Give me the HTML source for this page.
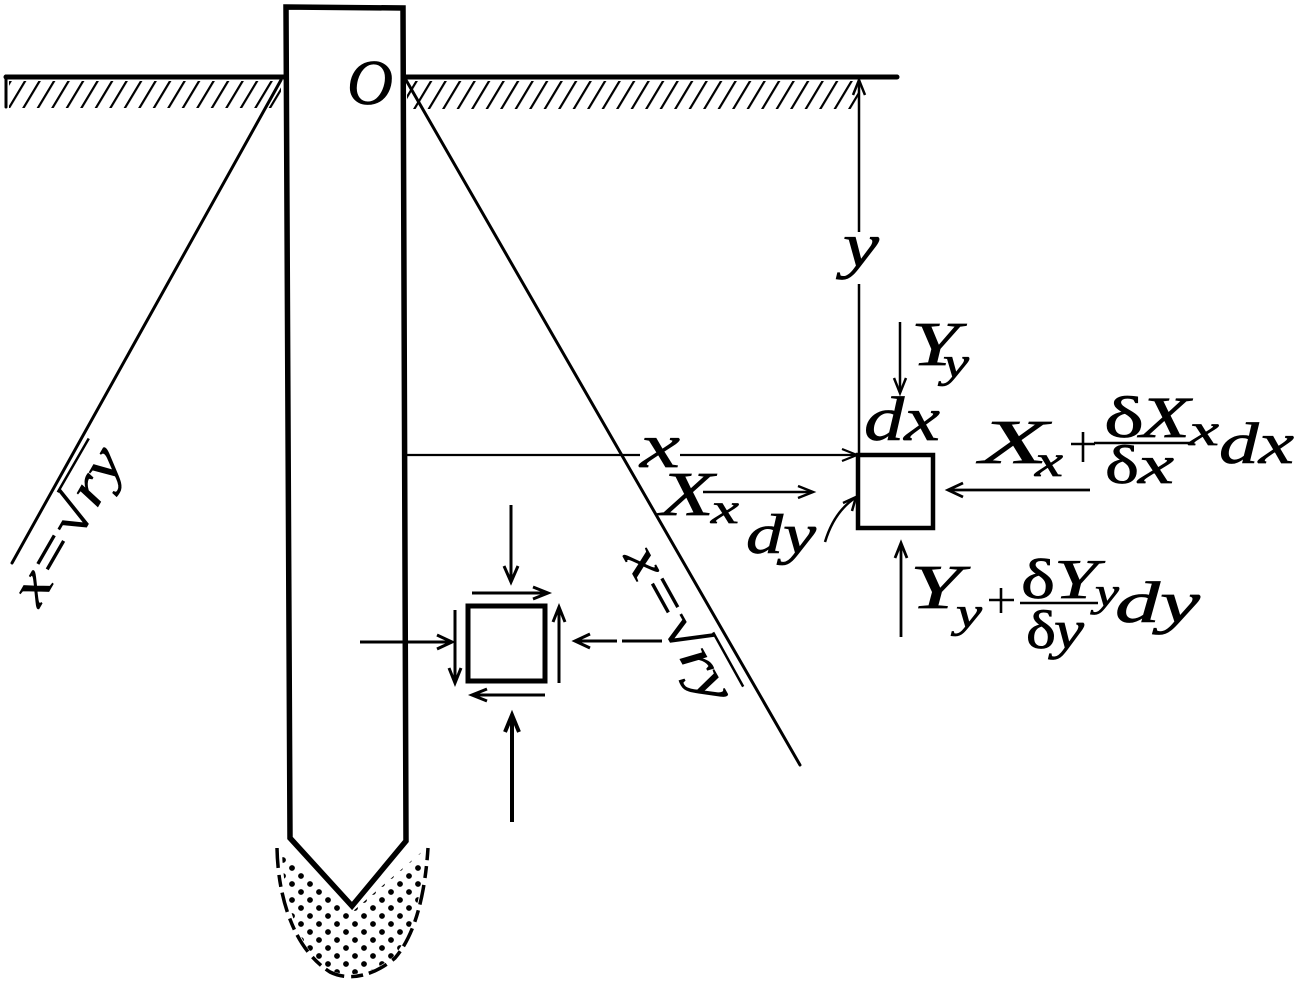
<!DOCTYPE html>
<html>
<head>
<meta charset="utf-8">
<style>
  html, body { margin:0; padding:0; background:#fff; }
  body { width:1296px; height:984px; overflow:hidden; }
  svg { display:block; }
  text { font-family: "Liberation Serif", "DejaVu Serif", serif; font-style: italic; fill:#000; stroke:#000; stroke-width:0.7; }
  .up { font-style: normal; }
</style>
</head>
<body>
<svg width="1296" height="984" viewBox="0 0 1296 984" xmlns="http://www.w3.org/2000/svg">
  <defs>
    <pattern id="dots" patternUnits="userSpaceOnUse" width="18" height="16">
      <circle cx="4" cy="4" r="2.9" fill="#000"/>
      <circle cx="13" cy="12" r="2.9" fill="#000"/>
    </pattern>
    <pattern id="hatch" patternUnits="userSpaceOnUse" width="14.5" height="400" patternTransform="skewX(-31)">
      <rect x="0" y="0" width="2.6" height="400" fill="#000"/>
    </pattern>
  </defs>
  <rect width="1296" height="984" fill="#fff"/>

  <!-- ground -->
  <rect x="9" y="81" width="272" height="27" fill="url(#hatch)"/>
  <rect x="407" y="81" width="451" height="28" fill="url(#hatch)"/>
  <g stroke="#000" fill="none" stroke-linecap="round">
    <line x1="6" y1="77" x2="286" y2="77" stroke-width="5"/>
    <line x1="403" y1="77" x2="897" y2="77" stroke-width="5"/>
    <line x1="6" y1="76" x2="6" y2="107" stroke-width="3"/>
  </g>

  <!-- slanted lines -->
  <g stroke="#000" stroke-width="3" stroke-linecap="round">
    <line x1="281" y1="80" x2="12" y2="563"/>
    <line x1="406" y1="80" x2="800" y2="765"/>
  </g>

  <!-- soil at tip -->
  <path d="M282,850 L352,912 L424,850 C422,895 413,935 393,957 C373,973 350,979 330,970 C298,950 283,900 282,850 Z" fill="url(#dots)"/>
  <path d="M277,848 C278,900 295,950 330,972 C350,982 375,975 395,958 C415,935 425,895 428,848" fill="none" stroke="#000" stroke-width="3.5" stroke-dasharray="20 7 12 6"/>

  <!-- pile -->
  <path d="M286,7 L403,8 L406,841 L352,906 L290,838 Z" fill="#fff" stroke="#000" stroke-width="5.5"/>
  <text x="347" y="104" font-size="64" textLength="46" lengthAdjust="spacingAndGlyphs">O</text>

  <!-- y dimension -->
  <g stroke="#000" stroke-width="2.5" fill="none">
    <line x1="859" y1="81" x2="859" y2="232"/>
    <line x1="859" y1="284" x2="859" y2="455"/>
    <path d="M853,95 L859,80 L865,95"/>
  </g>
  <text x="843" y="266" font-size="62" textLength="36" lengthAdjust="spacingAndGlyphs">y</text>

  <!-- x dimension -->
  <g stroke="#000" stroke-width="2.2" fill="none">
    <line x1="405" y1="455" x2="640" y2="455"/>
    <line x1="680" y1="455" x2="856" y2="455"/>
    <path d="M842,449 L857,455 L842,461"/>
  </g>
  <text x="640" y="467" font-size="62" textLength="40" lengthAdjust="spacingAndGlyphs">x</text>

  <!-- right element -->
  <rect x="858" y="455" width="75" height="73" fill="none" stroke="#000" stroke-width="4.5"/>
  <g stroke="#000" stroke-width="2.5" fill="none">
    <line x1="900" y1="322" x2="900" y2="392"/>
    <path d="M894,378 L900,393 L906,378"/>
  </g>
  <text x="911" y="365" font-size="62" textLength="48" lengthAdjust="spacingAndGlyphs">Y</text>
  <text x="943" y="377" font-size="42" textLength="26" lengthAdjust="spacingAndGlyphs">y</text>
  <text x="864" y="440" font-size="62" textLength="76" lengthAdjust="spacingAndGlyphs">dx</text>

  <g stroke="#000" stroke-width="2.8" fill="none">
    <line x1="949" y1="490" x2="1090" y2="490"/>
    <path d="M963,483 L948,490 L963,497"/>
  </g>
  <text x="980" y="463" font-size="62" textLength="68" lengthAdjust="spacingAndGlyphs">X</text>
  <text x="1035" y="476" font-size="44" textLength="28" lengthAdjust="spacingAndGlyphs">x</text>
  <g stroke="#000" stroke-width="2.6">
    <line x1="1071" y1="444" x2="1095" y2="444"/>
    <line x1="1083" y1="432" x2="1083" y2="462"/>
    <line x1="1094" y1="443" x2="1190" y2="443"/>
  </g>
  <text class="up" x="1104" y="437" font-size="58" textLength="40" lengthAdjust="spacingAndGlyphs">δ</text>
  <text x="1140" y="437" font-size="58" textLength="50" lengthAdjust="spacingAndGlyphs">X</text>
  <text class="up" x="1105" y="483" font-size="54" textLength="34" lengthAdjust="spacingAndGlyphs">δ</text>
  <text x="1138" y="483" font-size="54" textLength="36" lengthAdjust="spacingAndGlyphs">x</text>
  <text x="1189" y="445" font-size="44" textLength="30" lengthAdjust="spacingAndGlyphs">x</text>
  <text x="1219" y="463" font-size="58" textLength="75" lengthAdjust="spacingAndGlyphs">dx</text>

  <g stroke="#000" stroke-width="2.5" fill="none">
    <line x1="703" y1="492" x2="812" y2="492"/>
    <path d="M798,486 L813,492 L798,498"/>
  </g>
  <text x="660" y="515" font-size="62" textLength="54" lengthAdjust="spacingAndGlyphs">X</text>
  <text x="711" y="523" font-size="42" textLength="28" lengthAdjust="spacingAndGlyphs">x</text>
  <text x="746" y="553" font-size="56" textLength="70" lengthAdjust="spacingAndGlyphs">dy</text>
  <g stroke="#000" stroke-width="2.5" fill="none">
    <path d="M825,542 Q834,512 855,498"/>
    <path d="M843,503 L856,497 L852,511"/>
  </g>

  <g stroke="#000" stroke-width="2.8" fill="none">
    <line x1="901" y1="544" x2="901" y2="637"/>
    <path d="M895,558 L901,543 L907,558"/>
  </g>
  <text x="910" y="608" font-size="62" textLength="52" lengthAdjust="spacingAndGlyphs">Y</text>
  <text x="956" y="627" font-size="42" textLength="26" lengthAdjust="spacingAndGlyphs">y</text>
  <g stroke="#000" stroke-width="2.6">
    <line x1="989" y1="600" x2="1014" y2="600"/>
    <line x1="1001" y1="588" x2="1001" y2="613"/>
    <line x1="1020" y1="603" x2="1098" y2="603"/>
  </g>
  <text class="up" x="1021" y="598" font-size="56" textLength="34" lengthAdjust="spacingAndGlyphs">δ</text>
  <text x="1054" y="598" font-size="56" textLength="44" lengthAdjust="spacingAndGlyphs">Y</text>
  <text x="1095" y="606" font-size="40" textLength="24" lengthAdjust="spacingAndGlyphs">y</text>
  <text class="up" x="1026" y="648" font-size="54" textLength="30" lengthAdjust="spacingAndGlyphs">δ</text>
  <text x="1054" y="648" font-size="54" textLength="30" lengthAdjust="spacingAndGlyphs">y</text>
  <text x="1115" y="622" font-size="58" textLength="85" lengthAdjust="spacingAndGlyphs">dy</text>

  <!-- small element -->
  <rect x="468" y="606" width="77" height="75" fill="none" stroke="#000" stroke-width="5"/>
  <g stroke="#000" stroke-width="3" fill="none">
    <path d="M511,505 V580 M504,566 L511,582 L518,566"/>
    <path d="M472,593 H546 M533,587 L548,593 L533,599"/>
    <path d="M360,642 H450 M437,635 L452,642 L437,649"/>
    <path d="M455,610 V680 M449,668 L455,683 L461,668"/>
    <path d="M559,683 V610 M553,622 L559,607 L565,622"/>
    <path d="M577,641 H617 M622,641 H662 M590,634 L575,641 L590,648"/>
    <path d="M474,695 H545 M487,689 L472,695 L487,701"/>
  </g>
  <path d="M512,822 V718 M505,732 L512,715 L519,732" stroke="#000" stroke-width="4" fill="none"/>

  <!-- rotated labels -->
  <g transform="translate(70,527) rotate(-60)">
    <text x="0" y="14" font-size="54" text-anchor="middle" textLength="172" lengthAdjust="spacingAndGlyphs">x=√ry</text>
    <line x1="24" y1="-28" x2="86" y2="-28" stroke="#000" stroke-width="2.5"/>
  </g>
  <g transform="translate(677,625) rotate(61)">
    <text x="0" y="14" font-size="54" text-anchor="middle" textLength="172" lengthAdjust="spacingAndGlyphs">x=√ry</text>
    <line x1="24" y1="-28" x2="86" y2="-28" stroke="#000" stroke-width="2.5"/>
  </g>
</svg>
</body>
</html>
